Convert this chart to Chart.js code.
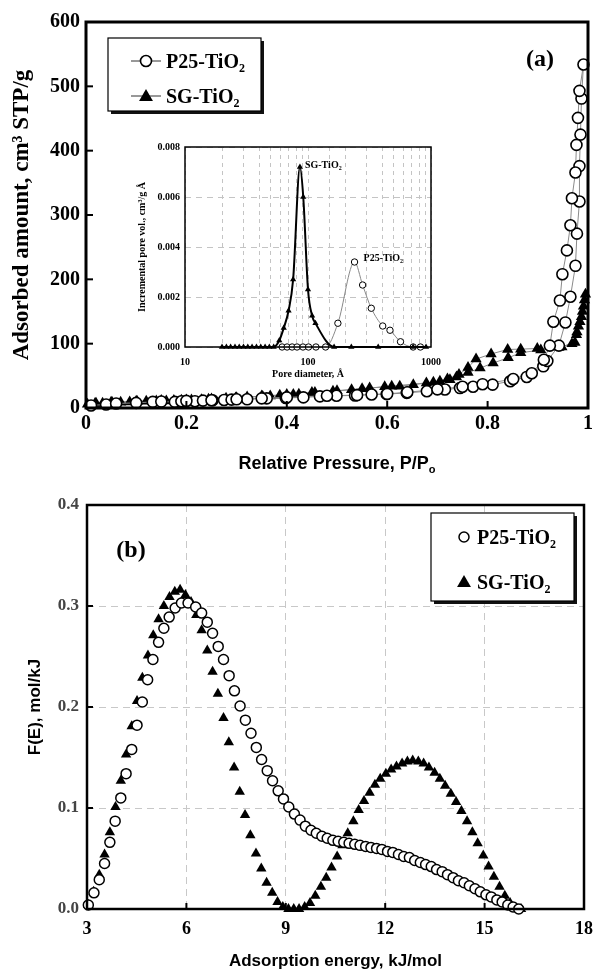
<!DOCTYPE html>
<html>
<head>
<meta charset="utf-8">
<script src="https://cdn.jsdelivr.net/npm/chart.js@4.4.1/dist/chart.umd.min.js"></script>
<style>
  html, body { margin: 0; padding: 0; background: #fff; }
  #wrap { position: relative; width: 603px; height: 972px; }
  canvas { position: absolute; }
</style>
</head>
<body>
<div id="wrap">
  <canvas id="chartA" width="603" height="480" style="left:0;top:0;width:603px;height:480px"></canvas>
  <canvas id="chartInset" width="340" height="260" style="left:110px;top:130px;width:340px;height:260px"></canvas>
  <canvas id="chartB" width="603" height="492" style="left:0;top:480px;width:603px;height:492px"></canvas>
</div>
<script>
// ---- data: (a) N2 isotherms, adsorption branch then desorption branch ----
const p25Pressure = [0.01, 0.04, 0.06, 0.10, 0.133, 0.177, 0.19, 0.217, 0.233, 0.252, 0.275, 0.29, 0.321, 0.36, 0.398, 0.433, 0.466, 0.499, 0.536, 0.569, 0.599, 0.639, 0.679, 0.715, 0.745, 0.771, 0.81, 0.845, 0.878, 0.911, 0.919, 0.942, 0.955, 0.965, 0.975, 0.978, 0.983, 0.983, 0.985, 0.987, 0.991,
  0.983, 0.980, 0.977, 0.975, 0.968, 0.965, 0.958, 0.949, 0.944, 0.931, 0.924, 0.912, 0.888, 0.851, 0.79, 0.75, 0.70, 0.64, 0.60, 0.54, 0.48, 0.40, 0.35, 0.30, 0.25, 0.20, 0.15];
const p25Amount = [4, 5.5, 7, 8, 9.5, 9.5, 10.5, 10.5, 11.5, 12, 12.5, 13, 13.5, 15, 15.5, 16.5, 18, 19, 19.5, 21, 21.5, 23.5, 26, 28.7, 31, 33, 36.4, 41.6, 48.3, 64.8, 73, 97, 133, 173, 221, 271, 321, 376, 425, 481, 534,
  493, 451, 409, 366, 326, 284, 245, 208, 167, 134, 97, 75, 54, 45, 37, 33, 29, 24.5, 22, 20, 19, 16.5, 15, 13.5, 12, 11, 10];

const sgPressure = [0.003, 0.018, 0.033, 0.052, 0.069, 0.087, 0.102, 0.12, 0.14, 0.16, 0.175, 0.19, 0.21, 0.23, 0.244, 0.279, 0.298, 0.321, 0.352, 0.367, 0.386, 0.413, 0.424, 0.456, 0.492, 0.529, 0.565, 0.595, 0.625, 0.652, 0.678, 0.705, 0.725, 0.738, 0.761, 0.785, 0.811, 0.841, 0.866, 0.906, 0.948, 0.974, 0.977, 0.981, 0.987, 0.991, 0.995,
  0.993, 0.989, 0.984, 0.978, 0.968, 0.942, 0.899, 0.866, 0.840, 0.807, 0.777, 0.761, 0.743, 0.72, 0.692, 0.609, 0.55, 0.50, 0.45, 0.40, 0.35, 0.30, 0.25, 0.20, 0.15, 0.10, 0.05, 0.02];
const sgAmount = [6, 7, 7.5, 8.5, 9, 9.5, 10, 10.5, 11, 11, 11.5, 12, 12.5, 13, 13.5, 15, 15.5, 17, 18, 18.5, 20, 21, 21.5, 24, 26, 28.5, 31, 33, 34, 36, 39, 41.6, 44, 48, 55, 62, 70, 78, 86, 90, 95, 102, 114, 127, 142, 158, 177,
  168, 150, 134, 118, 100, 94, 92.5, 91.5, 91, 84, 76, 63, 52, 45, 40, 34, 30, 27, 24, 21, 18.5, 16, 14, 12.5, 11.5, 10.5, 9, 7.5];

// ---- data: inset, pore size distribution ----
const sgPoreDiam = [20, 21.7, 23.5, 25.5, 27.6, 29.9, 32.4, 35.1, 38.1, 41.3, 44.8, 48.5, 52.6, 58.4, 63.5, 69.5, 75.7, 86, 91.5, 100, 108, 115, 163, 225, 372, 716, 911];
const sgPoreVol = [0, 0, 0, 0, 0, 0, 0, 0, 0, 0, 0, 0, 0, 0.00026, 0.00076, 0.00145, 0.0027, 0.0072, 0.006, 0.0023, 0.00125, 0.00095, 0, 0, 0, 0, 0];
const p25PoreDiam = [61.6, 67.6, 74.3, 81.4, 91, 101, 116, 139, 175, 239, 278, 327, 405, 464, 565, 716, 820];
const p25PoreVol = [0, 0, 0, 0, 0, 0, 0, 0, 0.00095, 0.0034, 0.00248, 0.00155, 0.00084, 0.00067, 0.00021, 0, 0];

// ---- data: (b) adsorption energy distribution ----
const p25Energy = [3.04, 3.21, 3.37, 3.53, 3.69, 3.85, 4.02, 4.18, 4.35, 4.51, 4.67, 4.83, 4.99, 5.16, 5.32, 5.48, 5.66, 5.85, 6.05, 6.28,
  6.46, 6.63, 6.79, 6.96, 7.12, 7.29, 7.45, 7.62, 7.78, 7.95, 8.11, 8.27, 8.44, 8.60, 8.77, 8.93, 9.09, 9.26, 9.43, 9.59,
  9.76, 9.92, 10.09, 10.25, 10.42, 10.58, 10.75, 10.91, 11.08, 11.24, 11.41, 11.57, 11.74, 11.90, 12.07, 12.23, 12.40, 12.56, 12.73, 12.89,
  13.06, 13.22, 13.39, 13.55, 13.72, 13.88, 14.05, 14.21, 14.38, 14.54, 14.71, 14.87, 15.04, 15.20, 15.37, 15.53, 15.70, 15.86, 16.03];
const p25Dist = [0.004, 0.016, 0.029, 0.045, 0.066, 0.087, 0.110, 0.134, 0.158, 0.182, 0.205, 0.227, 0.247, 0.264, 0.278, 0.289, 0.298, 0.303, 0.303, 0.299,
  0.293, 0.284, 0.273, 0.260, 0.247, 0.231, 0.216, 0.201, 0.187, 0.174, 0.160, 0.148, 0.137, 0.127, 0.117, 0.109, 0.101, 0.094, 0.088, 0.082,
  0.078, 0.075, 0.072, 0.070, 0.068, 0.067, 0.066, 0.065, 0.064, 0.063, 0.062, 0.061, 0.060, 0.059, 0.057, 0.056, 0.054, 0.052, 0.051, 0.048,
  0.046, 0.044, 0.042, 0.039, 0.037, 0.034, 0.031, 0.028, 0.026, 0.023, 0.020, 0.017, 0.014, 0.012, 0.009, 0.007, 0.004, 0.002, 0.000];
const sgEnergy = [3.04, 3.20, 3.37, 3.53, 3.69, 3.86, 4.02, 4.18, 4.35, 4.51, 4.67, 4.84, 5.00, 5.16, 5.32, 5.49, 5.65, 5.81, 5.97, 6.14,
  6.30, 6.46, 6.63, 6.79, 6.95, 7.12, 7.28, 7.44, 7.61, 7.77, 7.93, 8.10, 8.26, 8.42, 8.59, 8.75, 8.91, 9.08, 9.24, 9.40,
  9.57, 9.73, 9.89, 10.06, 10.22, 10.38, 10.55, 10.71, 10.87, 11.04, 11.20, 11.36, 11.53, 11.69, 11.85, 12.02, 12.18, 12.34, 12.51, 12.67,
  12.83, 13.00, 13.16, 13.32, 13.49, 13.65, 13.81, 13.98, 14.14, 14.30, 14.47, 14.63, 14.79, 14.96, 15.12, 15.28, 15.45, 15.61, 15.77, 15.94, 16.10];
const sgDist = [0.004, 0.017, 0.034, 0.054, 0.076, 0.101, 0.127, 0.153, 0.181, 0.206, 0.229, 0.251, 0.271, 0.287, 0.300, 0.309, 0.314, 0.316, 0.311, 0.304,
  0.291, 0.276, 0.256, 0.235, 0.213, 0.189, 0.165, 0.140, 0.116, 0.093, 0.073, 0.055, 0.040, 0.026, 0.016, 0.007, 0.002, 0.000, 0.000, 0.000,
  0.002, 0.006, 0.013, 0.022, 0.031, 0.041, 0.052, 0.063, 0.075, 0.087, 0.098, 0.107, 0.115, 0.123, 0.129, 0.134, 0.138, 0.141, 0.144, 0.146,
  0.147, 0.146, 0.144, 0.140, 0.135, 0.129, 0.122, 0.114, 0.106, 0.097, 0.087, 0.076, 0.065, 0.053, 0.042, 0.032, 0.022, 0.013, 0.006, 0.001, 0.000];

const seriesNames = [["P25-TiO", "2"], ["SG-TiO", "2"]];

const SERIF = "'Liberation Serif', 'Times New Roman', serif";
const SANS = "'Liberation Sans', Arial, sans-serif";

const pts = (xs, ys) => xs.map((x, i) => ({ x: x, y: ys[i] }));

// text with a subscript tail, drawn on the canvas
function richText(ctx, x, y, parts, size, family, align) {
  const seg = parts.map(([t, k]) => {
    const s = k ? Math.round(size * 0.62) : size;
    ctx.font = "bold " + s + "px " + family;
    return { t: t, k: k, s: s, w: ctx.measureText(t).width };
  });
  const total = seg.reduce((a, p) => a + p.w, 0);
  let cx = align === "center" ? x - total / 2 : x;
  ctx.textAlign = "left";
  ctx.textBaseline = "alphabetic";
  seg.forEach((p) => {
    ctx.font = "bold " + p.s + "px " + family;
    ctx.fillText(p.t, cx, y + (p.k === "sub" ? size * 0.22 : 0));
    cx += p.w;
  });
}

function circleMark(ctx, x, y, r, lw) {
  ctx.beginPath();
  ctx.arc(x, y, r, 0, Math.PI * 2);
  ctx.fillStyle = "#fff";
  ctx.fill();
  ctx.lineWidth = lw;
  ctx.strokeStyle = "#000";
  ctx.stroke();
}
function triMark(ctx, x, y, r) {
  ctx.beginPath();
  ctx.moveTo(x, y - r);
  ctx.lineTo(x + r * 0.866, y + r * 0.5);
  ctx.lineTo(x - r * 0.866, y + r * 0.5);
  ctx.closePath();
  ctx.fillStyle = "#000";
  ctx.fill();
}

// frame round the plot + short inward ticks
function framePlugin(id, lw, tickLen) {
  return {
    id: id,
    afterDatasetsDraw(chart) {
      const { ctx, chartArea: a, scales } = chart;
      ctx.save();
      ctx.setLineDash([]);
      ctx.strokeStyle = "#000";
      if (tickLen) {
        ctx.lineWidth = 2;
        scales.x.ticks.forEach((t) => {
          const px = scales.x.getPixelForValue(t.value);
          ctx.beginPath(); ctx.moveTo(px, a.bottom); ctx.lineTo(px, a.bottom - tickLen); ctx.stroke();
        });
        scales.y.ticks.forEach((t) => {
          const py = scales.y.getPixelForValue(t.value);
          ctx.beginPath(); ctx.moveTo(a.left, py); ctx.lineTo(a.left + tickLen, py); ctx.stroke();
        });
      }
      ctx.lineWidth = lw;
      ctx.strokeRect(a.left, a.top, a.right - a.left, a.bottom - a.top);
      ctx.restore();
    },
  };
}

// ---- panel (a) ----
const decorA = {
  id: "decorA",
  afterDraw(chart) {
    const { ctx, chartArea: a } = chart;
    ctx.save();
    // legend box with shadow
    const bx = a.left + 22, by = a.top + 16, bw = 153, bh = 73;
    ctx.fillStyle = "#111";
    ctx.fillRect(bx + 3, by + 3, bw, bh);
    ctx.fillStyle = "#fff";
    ctx.fillRect(bx, by, bw, bh);
    ctx.lineWidth = 1.2;
    ctx.strokeStyle = "#000";
    ctx.strokeRect(bx, by, bw, bh);
    [0, 1].forEach((i) => {
      const y = by + 23 + i * 35;
      ctx.beginPath();
      ctx.lineWidth = 1;
      ctx.strokeStyle = "#333";
      ctx.moveTo(bx + 23, y); ctx.lineTo(bx + 53, y); ctx.stroke();
      if (i === 0) circleMark(ctx, bx + 38, y, 5.5, 1.6); else triMark(ctx, bx + 38, y + 1, 8);
      ctx.fillStyle = "#000";
      richText(ctx, bx + 58, y + 7, [[seriesNames[i][0], ""], [seriesNames[i][1], "sub"]], 20, SERIF, "left");
    });
    // panel tag
    ctx.fillStyle = "#000";
    ctx.font = "bold 24px " + SERIF;
    ctx.textAlign = "center";
    ctx.textBaseline = "middle";
    ctx.fillText("(a)", a.right - 48, a.top + 38);
    // x title with subscript
    richText(ctx, (a.left + a.right) / 2, a.bottom + 61, [["Relative Pressure, P/P", ""], ["o", "sub"]], 18, SANS, "center");
    ctx.restore();
  },
};

new Chart(document.getElementById("chartA"), {
  type: "scatter",
  data: {
    datasets: [
      {
        label: "P25-TiO2",
        data: pts(p25Pressure, p25Amount),
        showLine: true,
        borderColor: "#8a8a8a",
        borderWidth: 1,
        pointStyle: "circle",
        pointRadius: 5.5,
        pointBackgroundColor: "#fff",
        pointBorderColor: "#000",
        pointBorderWidth: 1.6,
        clip: false,
      },
      {
        label: "SG-TiO2",
        data: pts(sgPressure, sgAmount),
        showLine: true,
        borderColor: "#8a8a8a",
        borderWidth: 1,
        pointStyle: "triangle",
        pointRadius: 6.5,
        pointBackgroundColor: "#000",
        pointBorderColor: "#000",
        pointBorderWidth: 0,
        clip: false,
      },
    ],
  },
  options: {
    responsive: false,
    animation: false,
    layout: { padding: { left: 0, right: 15, top: 22, bottom: 0 } },
    plugins: { legend: { display: false }, tooltip: { enabled: false } },
    scales: {
      x: {
        type: "linear",
        min: 0,
        max: 1,
        grid: { display: false, drawTicks: false },
        border: { display: false },
        ticks: {
          stepSize: 0.2,
          color: "#000",
          padding: 4,
          maxRotation: 0,
          font: { family: SERIF, size: 20, weight: "bold" },
          callback: (v) => String(Math.round(v * 10) / 10),
        },
        afterFit(s) { s.height = 72; },
      },
      y: {
        min: 0,
        max: 600,
        grid: { display: false, drawTicks: false },
        border: { display: false },
        ticks: { stepSize: 100, color: "#000", padding: 6, font: { family: SERIF, size: 20, weight: "bold" } },
        title: {
          display: true,
          text: "Adsorbed amount, cm\u00B3 STP/g",
          color: "#000",
          font: { family: SERIF, size: 23, weight: "bold" },
          padding: { top: 8, bottom: 0 },
        },
        afterFit(s) { s.width = 86; },
      },
    },
  },
  plugins: [framePlugin("frameA", 3, 7), decorA],
});

// ---- inset ----
const insetLabels = {
  id: "insetLabels",
  afterDraw(chart) {
    const { ctx, scales } = chart;
    const sgPeak = sgPoreVol.indexOf(Math.max(...sgPoreVol));
    const p25Peak = p25PoreVol.indexOf(Math.max(...p25PoreVol));
    ctx.save();
    ctx.fillStyle = "#000";
    richText(ctx, scales.x.getPixelForValue(sgPoreDiam[sgPeak]) + 5, scales.y.getPixelForValue(sgPoreVol[sgPeak]) + 1,
      [[seriesNames[1][0], ""], [seriesNames[1][1], "sub"]], 10, SERIF, "left");
    richText(ctx, scales.x.getPixelForValue(p25PoreDiam[p25Peak]) + 9, scales.y.getPixelForValue(p25PoreVol[p25Peak]) - 1,
      [[seriesNames[0][0], ""], [seriesNames[0][1], "sub"]], 10, SERIF, "left");
    ctx.restore();
  },
};

new Chart(document.getElementById("chartInset"), {
  type: "scatter",
  data: {
    datasets: [
      {
        label: "SG-TiO2",
        data: pts(sgPoreDiam, sgPoreVol),
        showLine: true,
        borderColor: "#000",
        borderWidth: 2,
        cubicInterpolationMode: "monotone",
        pointStyle: "triangle",
        pointRadius: 3.6,
        pointBackgroundColor: "#000",
        pointBorderWidth: 0,
        clip: false,
      },
      {
        label: "P25-TiO2",
        data: pts(p25PoreDiam, p25PoreVol),
        showLine: true,
        borderColor: "#888",
        borderWidth: 1,
        cubicInterpolationMode: "monotone",
        pointStyle: "circle",
        pointRadius: 3.2,
        pointBackgroundColor: "#fff",
        pointBorderColor: "#000",
        pointBorderWidth: 1,
        clip: false,
      },
    ],
  },
  options: {
    responsive: false,
    animation: false,
    layout: { padding: { left: 0, right: 17, top: 17, bottom: 0 } },
    plugins: { legend: { display: false }, tooltip: { enabled: false } },
    scales: {
      x: {
        type: "logarithmic",
        min: 10,
        max: 1000,
        grid: { color: "#c4c4c4", lineWidth: 1, drawTicks: false },
        border: { display: false, dash: [4, 4] },
        ticks: {
          autoSkip: false,
          maxRotation: 0,
          padding: 9,
          color: "#000",
          font: { family: SERIF, size: 10, weight: "bold" },
          callback: (v) => {
            const l = Math.log10(v);
            return Math.abs(l - Math.round(l)) < 1e-6 ? String(Math.round(v)) : "";
          },
        },
        title: {
          display: true,
          text: "Pore diameter, \u00C5",
          color: "#000",
          font: { family: SERIF, size: 10, weight: "bold" },
          padding: { top: 0, bottom: 10 },
        },
        afterFit(s) { s.height = 43; },
      },
      y: {
        min: 0,
        max: 0.008,
        grid: { color: "#c4c4c4", lineWidth: 1, drawTicks: false },
        border: { display: false, dash: [6, 5] },
        ticks: {
          stepSize: 0.002,
          padding: 5,
          color: "#000",
          font: { family: SERIF, size: 10, weight: "bold" },
          callback: (v) => v.toFixed(3),
        },
        title: {
          display: true,
          text: "Incremental pore vol., cm\u00B3/g \u00C5",
          color: "#000",
          font: { family: SERIF, size: 10, weight: "bold" },
          padding: { top: 26, bottom: 0 },
        },
        afterFit(s) { s.width = 75; },
      },
    },
  },
  plugins: [framePlugin("frameInset", 1.5, 0), insetLabels],
});

// ---- panel (b) ----
const decorB = {
  id: "decorB",
  afterDraw(chart) {
    const { ctx, chartArea: a } = chart;
    ctx.save();
    const bx = a.right - 153, by = a.top + 8, bw = 143, bh = 88;
    ctx.fillStyle = "#111";
    ctx.fillRect(bx + 3, by + 3, bw, bh);
    ctx.fillStyle = "#fff";
    ctx.fillRect(bx, by, bw, bh);
    ctx.lineWidth = 1.2;
    ctx.strokeStyle = "#000";
    ctx.strokeRect(bx, by, bw, bh);
    [0, 1].forEach((i) => {
      const y = by + 24 + i * 45;
      if (i === 0) circleMark(ctx, bx + 33, y, 5, 1.5); else triMark(ctx, bx + 33, y + 1, 8);
      ctx.fillStyle = "#000";
      richText(ctx, bx + 46, y + 7, [[seriesNames[i][0], ""], [seriesNames[i][1], "sub"]], 20, SERIF, "left");
    });
    ctx.fillStyle = "#000";
    ctx.font = "bold 24px " + SERIF;
    ctx.textAlign = "center";
    ctx.textBaseline = "middle";
    ctx.fillText("(b)", a.left + 44, a.top + 46);
    ctx.restore();
  },
};

new Chart(document.getElementById("chartB"), {
  type: "scatter",
  data: {
    datasets: [
      {
        label: "P25-TiO2",
        data: pts(p25Energy, p25Dist),
        showLine: false,
        pointStyle: "circle",
        pointRadius: 5,
        pointBackgroundColor: "#fff",
        pointBorderColor: "#000",
        pointBorderWidth: 1.5,
        clip: false,
      },
      {
        label: "SG-TiO2",
        data: pts(sgEnergy, sgDist),
        showLine: false,
        pointStyle: "triangle",
        pointRadius: 6,
        pointBackgroundColor: "#000",
        pointBorderWidth: 0,
        clip: false,
      },
    ],
  },
  options: {
    responsive: false,
    animation: false,
    layout: { padding: { left: 0, right: 10, top: 25, bottom: 0 } },
    plugins: { legend: { display: false }, tooltip: { enabled: false } },
    scales: {
      x: {
        type: "linear",
        min: 3,
        max: 18,
        grid: { color: "#c8c8c8", lineWidth: 1, drawTicks: false },
        border: { display: false, dash: [7, 5] },
        ticks: { stepSize: 3, color: "#000", padding: 10, maxRotation: 0, font: { family: SERIF, size: 18, weight: "bold" } },
        title: {
          display: true,
          text: "Adsorption energy, kJ/mol",
          color: "#000",
          font: { family: SANS, size: 17, weight: "bold" },
          padding: { top: 0, bottom: 0 },
        },
        afterFit(s) { s.height = 63; },
      },
      y: {
        min: 0,
        max: 0.4,
        grid: { color: "#c8c8c8", lineWidth: 1, drawTicks: false },
        border: { display: false, dash: [7, 5] },
        ticks: {
          stepSize: 0.1,
          color: "#444",
          padding: 8,
          font: { family: SERIF, size: 17, weight: "bold" },
          callback: (v) => v.toFixed(1),
        },
        title: {
          display: true,
          text: "F(E), mol/kJ",
          color: "#000",
          font: { family: SANS, size: 17, weight: "bold" },
          padding: { top: 25, bottom: 0 },
        },
        afterFit(s) { s.width = 87; },
      },
    },
  },
  plugins: [framePlugin("frameB", 2.5, 6), decorB],
});
</script>
</body>
</html>
